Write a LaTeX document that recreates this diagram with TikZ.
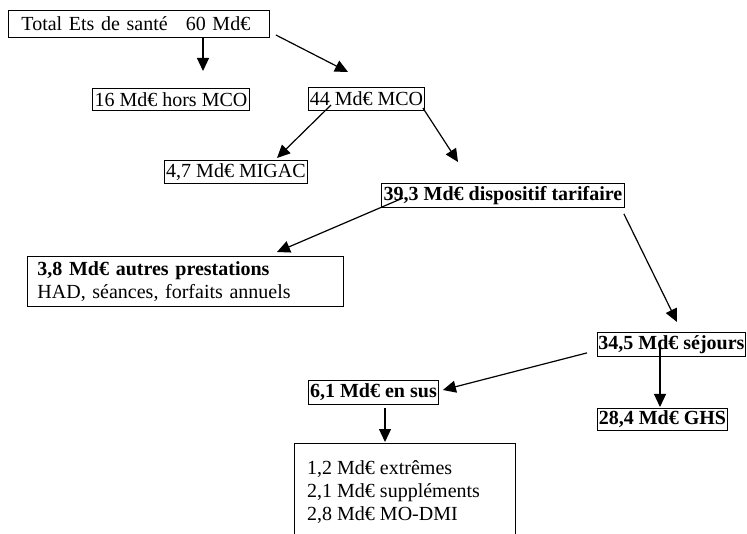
\documentclass[tikz,border=0pt]{standalone}
\usepackage{fontspec}
\setmainfont{Liberation Serif}
\usetikzlibrary{calc,arrows.meta}
\begin{document}
\begin{tikzpicture}[x=1pt,y=-1pt,
  box/.style={draw, line width=0.9pt, anchor=north west, inner sep=0pt,
    align=center, font=\fontsize{20}{23}\selectfont},
  flow/.style={line width=1.2pt, -{Triangle[length=13pt,width=12pt]}}]
\useasboundingbox (0,0) rectangle (747,534);

% boxes
\node[box, align=left, inner xsep=13pt, text width=235pt, minimum height=27pt] (total) at (8,10)
  {Total Ets de santé\hspace{18pt}60 Md€};
\node[box, minimum width=157pt, minimum height=22pt] (hors) at (92,88) {16 Md€ hors MCO};
\node[box, minimum width=116pt, minimum height=23pt] (mco) at (308,87) {44 Md€ MCO};
\node[box, minimum width=143pt, minimum height=23pt] (migac) at (164,160) {4,7 Md€ MIGAC};
\node[box, minimum width=243pt, minimum height=24pt] (tarif) at (381,183)
  {\bfseries 39,3 Md€ dispositif tarifaire};
\node[box, align=left, inner xsep=10pt, text width=296pt, minimum height=50pt] (autres) at (27,256)
  {\textbf{3,8 Md€ autres prestations}\\HAD, séances, forfaits annuels};
\node[box, minimum width=148pt, minimum height=24pt] (sejours) at (597,332)
  {\bfseries 34,5 Md€ séjours};
\node[box, minimum width=130pt, minimum height=24pt] (sus) at (308,380)
  {\bfseries 6,1 Md€ en sus};
\node[box, minimum width=130pt, minimum height=22pt] (ghs) at (597,408)
  {\bfseries 28,4 Md€ GHS};
\node[box, minimum width=221pt, minimum height=110pt] (extras) at (294,443) {};
\node[anchor=north west, inner sep=0pt, align=left, font=\fontsize{20}{23}\selectfont]
  (extrastext) at (307,460)
  {1,2 Md€ extrêmes\\2,1 Md€ suppléments\\2,8 Md€ MO-DMI};

% connectors
\draw[flow] ($(total.south west)+(195,-1)$) -- ($(hors.north west)+(111,-17)$);
\draw[flow] ($(total.north east)+(6,25)$) -- ($(mco.north west)+(40,-15)$);
\draw[flow] ($(mco.north west)+(23,18)$) -- ($(migac.north west)+(113,-2)$);
\draw[flow] ($(mco.north east)+(-2,21)$) -- ($(tarif.north west)+(77,-21)$);
\draw[flow] ($(tarif.north west)+(22,15)$) -- ($(autres.north west)+(250,-4)$);
\draw[flow] ($(tarif.south east)+(-1,6)$) -- ($(sejours.north west)+(80,-10)$);
\draw[flow] ($(sejours.south west)+(-10,-4)$) -- ($(sus.north east)+(4,10)$);
\draw[flow] ($(sejours.north west)+(63,13)$) -- ($(ghs.north west)+(63,-1)$);
\draw[flow] ($(sus.south west)+(77,3)$) -- ($(extras.north west)+(91,-1)$);
\end{tikzpicture}
\end{document}
